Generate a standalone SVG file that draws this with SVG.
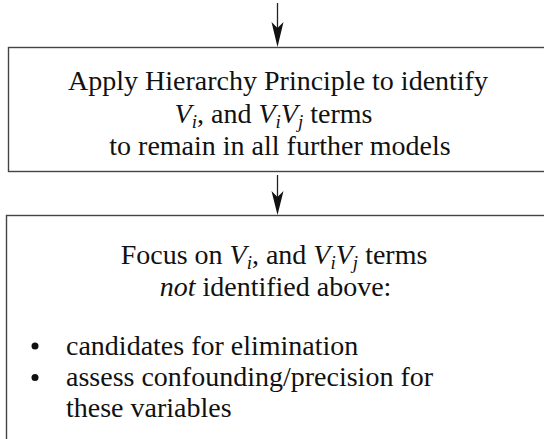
<svg xmlns="http://www.w3.org/2000/svg" width="544" height="439" viewBox="0 0 544 439">
<g id="connectors" stroke="#222" stroke-width="1.3">
<path d="M277.5,3 V35" fill="none"/>
<path d="M271.5,22 L277.5,28 L283.5,22 L277.5,47 Z" fill="#111" stroke="none"/>
<path d="M277.5,175 V203" fill="none"/>
<path d="M271.5,191 L277.5,197 L283.5,191 L277.5,215 Z" fill="#111" stroke="none"/>
</g>
<g id="node1" fill="#111">
<rect x="8.5" y="47.5" width="540" height="124" fill="#fff" stroke="#444" stroke-width="1.4"/>
<text font-family="Liberation Serif, serif" font-size="28" x="278" y="89.5" text-anchor="middle">Apply Hierarchy Principle to identify</text>
<text font-family="Liberation Serif, serif" font-size="28" x="273.5" y="122.5" text-anchor="middle"><tspan font-style="italic">V</tspan><tspan font-size="19" font-style="italic" dy="5">i</tspan><tspan dy="-5">, and </tspan><tspan font-style="italic">V</tspan><tspan font-size="19" font-style="italic" dy="5">i</tspan><tspan font-style="italic" dy="-5">V</tspan><tspan font-size="19" font-style="italic" dy="5">j</tspan><tspan dy="-5"> terms</tspan></text>
<text font-family="Liberation Serif, serif" font-size="28" x="280" y="154.5" text-anchor="middle">to remain in all further models</text>
</g>
<g id="node2" fill="#111">
<rect x="6.5" y="215.5" width="545" height="240" fill="#fff" stroke="#444" stroke-width="1.4"/>
<text font-family="Liberation Serif, serif" font-size="28" x="274" y="264" text-anchor="middle">Focus on <tspan font-style="italic">V</tspan><tspan font-size="19" font-style="italic" dy="5">i</tspan><tspan dy="-5">, and </tspan><tspan font-style="italic">V</tspan><tspan font-size="19" font-style="italic" dy="5">i</tspan><tspan font-style="italic" dy="-5">V</tspan><tspan font-size="19" font-style="italic" dy="5">j</tspan><tspan dy="-5"> terms</tspan></text>
<text font-family="Liberation Serif, serif" font-size="28" x="275.5" y="295.5" text-anchor="middle"><tspan font-style="italic">not</tspan> identified above:</text>
<circle cx="35" cy="346" r="3.5"/>
<text font-family="Liberation Serif, serif" font-size="28" x="66" y="354.5">candidates for elimination</text>
<circle cx="35" cy="377.5" r="3.5"/>
<text font-family="Liberation Serif, serif" font-size="28" x="66" y="386">assess confounding/precision for</text>
<text font-family="Liberation Serif, serif" font-size="28" x="66" y="417">these variables</text>
</g>
</svg>
